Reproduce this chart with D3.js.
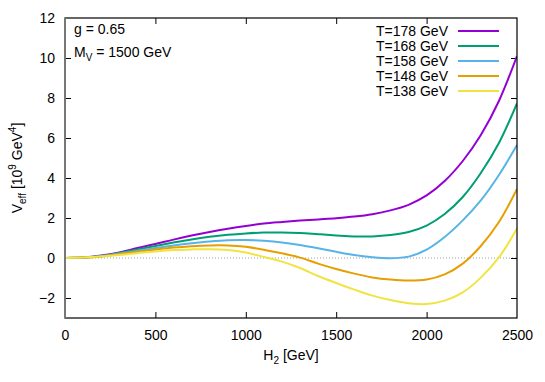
<!DOCTYPE html>
<html><head><meta charset="utf-8">
<script src="https://cdn.jsdelivr.net/npm/d3@7"></script>
<style>
html,body{margin:0;padding:0;background:#fff;}
svg{display:block;font-family:"Liberation Sans",Arial,sans-serif;}
</style></head>
<body>
<svg id="c" width="545" height="382"></svg>
<script>
const hValues = [0,100,200,300,400,500,600,700,800,900,1000,1100,1200,1300,1400,1500,1600,1700,1800,1900,2000,2100,2200,2300,2400,2500];
const seriesNames = ["T=178 GeV","T=168 GeV","T=158 GeV","T=148 GeV","T=138 GeV"];
const seriesColors = ["#9400d3","#009e73","#56b4e9","#e69f00","#f0e442"];
const vT178 = [0,0.02,0.12,0.28,0.5,0.7,0.92,1.12,1.3,1.46,1.6,1.72,1.8,1.87,1.93,1.99,2.07,2.19,2.38,2.66,3.13,3.85,4.85,6.15,7.85,10.1];
const vT168 = [0,0.02,0.1,0.25,0.42,0.6,0.77,0.93,1.06,1.16,1.23,1.27,1.28,1.25,1.19,1.13,1.08,1.08,1.15,1.3,1.62,2.2,3.05,4.25,5.75,7.73];
const vT158 = [0,0.02,0.09,0.22,0.36,0.5,0.63,0.74,0.83,0.89,0.9,0.86,0.78,0.65,0.49,0.31,0.15,0.04,-0.01,0.07,0.42,1.05,1.88,2.88,4.15,5.65];
const vT148 = [0,0.02,0.08,0.2,0.31,0.42,0.52,0.59,0.63,0.63,0.56,0.41,0.24,0.02,-0.28,-0.55,-0.78,-0.97,-1.08,-1.13,-1.08,-0.82,-0.28,0.6,1.8,3.45];
const vT138 = [0,0.02,0.07,0.15,0.24,0.33,0.4,0.43,0.44,0.4,0.27,0.05,-0.18,-0.5,-0.9,-1.25,-1.58,-1.88,-2.1,-2.26,-2.3,-2.13,-1.72,-0.98,0.03,1.47];
const seriesValues = [vT178,vT168,vT158,vT148,vT138];
const xTicks = [0,500,1000,1500,2000,2500];
const yTicks = [-2,0,2,4,6,8,10,12];
const annot1 = "g = 0.65";

const svg = d3.select("#c");
const L=65,R=517,T=18,B=318;
const x = d3.scaleLinear().domain([0,2500]).range([L,R]);
const y = d3.scaleLinear().domain([-3,12]).range([B,T]);

// zero line
svg.append("line").attr("x1",L).attr("x2",R).attr("y1",y(0)).attr("y2",y(0))
  .attr("stroke","#a0a0a0").attr("stroke-width",1).attr("stroke-dasharray","1,2");

// axes (ticks inward)
const fs = 14;
const ax = svg.append("g").attr("transform",`translate(0,${B})`)
  .call(d3.axisBottom(x).tickValues(xTicks).tickSize(-6).tickPadding(12).tickFormat(d3.format("d")));
const axT = svg.append("g").attr("transform",`translate(0,${T})`)
  .call(d3.axisTop(x).tickValues(xTicks).tickSize(-6).tickFormat(""));
const ay = svg.append("g").attr("transform",`translate(${L},0)`)
  .call(d3.axisLeft(y).tickValues(yTicks).tickSize(-6).tickPadding(10).tickFormat(d3.format("d")));
const ayR = svg.append("g").attr("transform",`translate(${R},0)`)
  .call(d3.axisRight(y).tickValues(yTicks).tickSize(-6).tickFormat(""));
[ax,axT,ay,ayR].forEach(g=>{
  g.select(".domain").remove();
  g.selectAll(".tick line").attr("stroke","#000");
  g.selectAll("text").attr("font-size",fs).attr("fill","#000").attr("font-family","Liberation Sans, Arial, sans-serif");
});
ax.selectAll(".tick line").filter(d=>d===0||d===2500).remove();
axT.selectAll(".tick line").filter(d=>d===0||d===2500).remove();
ay.selectAll(".tick line").filter(d=>d===12).remove();
ayR.selectAll(".tick line").filter(d=>d===12).remove();

// curves
const line = d3.line().x((d,i)=>x(hValues[i])).y(d=>y(d)).curve(d3.curveCatmullRom.alpha(0.5));
svg.append("clipPath").attr("id","clp").append("rect").attr("x",L).attr("y",T).attr("width",R-L).attr("height",B-T);
seriesValues.forEach((vals,k)=>{
  svg.append("path").datum(vals).attr("d",line).attr("fill","none")
    .attr("stroke",seriesColors[k]).attr("stroke-width",2).attr("clip-path","url(#clp)");
});

// frame
svg.append("rect").attr("x",L).attr("y",T).attr("width",R-L).attr("height",B-T)
  .attr("fill","none").attr("stroke","#000").attr("stroke-width",1.2);
svg.append("line").attr("x1",L).attr("x2",L).attr("y1",T).attr("y2",B).attr("stroke","#777").attr("stroke-width",2);

// legend
const lg = svg.append("g");
seriesNames.forEach((n,k)=>{
  const yy = 31 + k*15;
  lg.append("text").attr("x",448).attr("y",yy+5).attr("text-anchor","end").attr("font-size",fs).text(n);
  lg.append("line").attr("x1",458).attr("x2",499).attr("y1",yy).attr("y2",yy)
    .attr("stroke",seriesColors[k]).attr("stroke-width",2);
});

// annotations
svg.append("text").attr("x",74).attr("y",34).attr("font-size",fs).text(annot1);
const t2 = svg.append("text").attr("x",74).attr("y",57).attr("font-size",fs);
t2.append("tspan").text("M");
t2.append("tspan").attr("font-size",10).attr("dy",4).text("V");
t2.append("tspan").attr("dy",-4).text(" = 1500 GeV");

// axis labels
const xl = svg.append("text").attr("x",(L+R)/2).attr("y",360).attr("text-anchor","middle").attr("font-size",fs);
xl.append("tspan").text("H");
xl.append("tspan").attr("font-size",10).attr("dy",4).text("2");
xl.append("tspan").attr("dy",-4).text(" [GeV]");

const yl = svg.append("text").attr("transform",`translate(22,${(T+B)/2}) rotate(-90)`)
  .attr("text-anchor","middle").attr("font-size",fs);
yl.append("tspan").text("V");
yl.append("tspan").attr("font-size",10).attr("dy",4).text("eff");
yl.append("tspan").attr("dy",-4).text(" [10");
yl.append("tspan").attr("font-size",10).attr("dy",-6).text("9");
yl.append("tspan").attr("dy",6).text(" GeV");
yl.append("tspan").attr("font-size",10).attr("dy",-6).text("4");
yl.append("tspan").attr("dy",6).text("]");
</script>
</body></html>
